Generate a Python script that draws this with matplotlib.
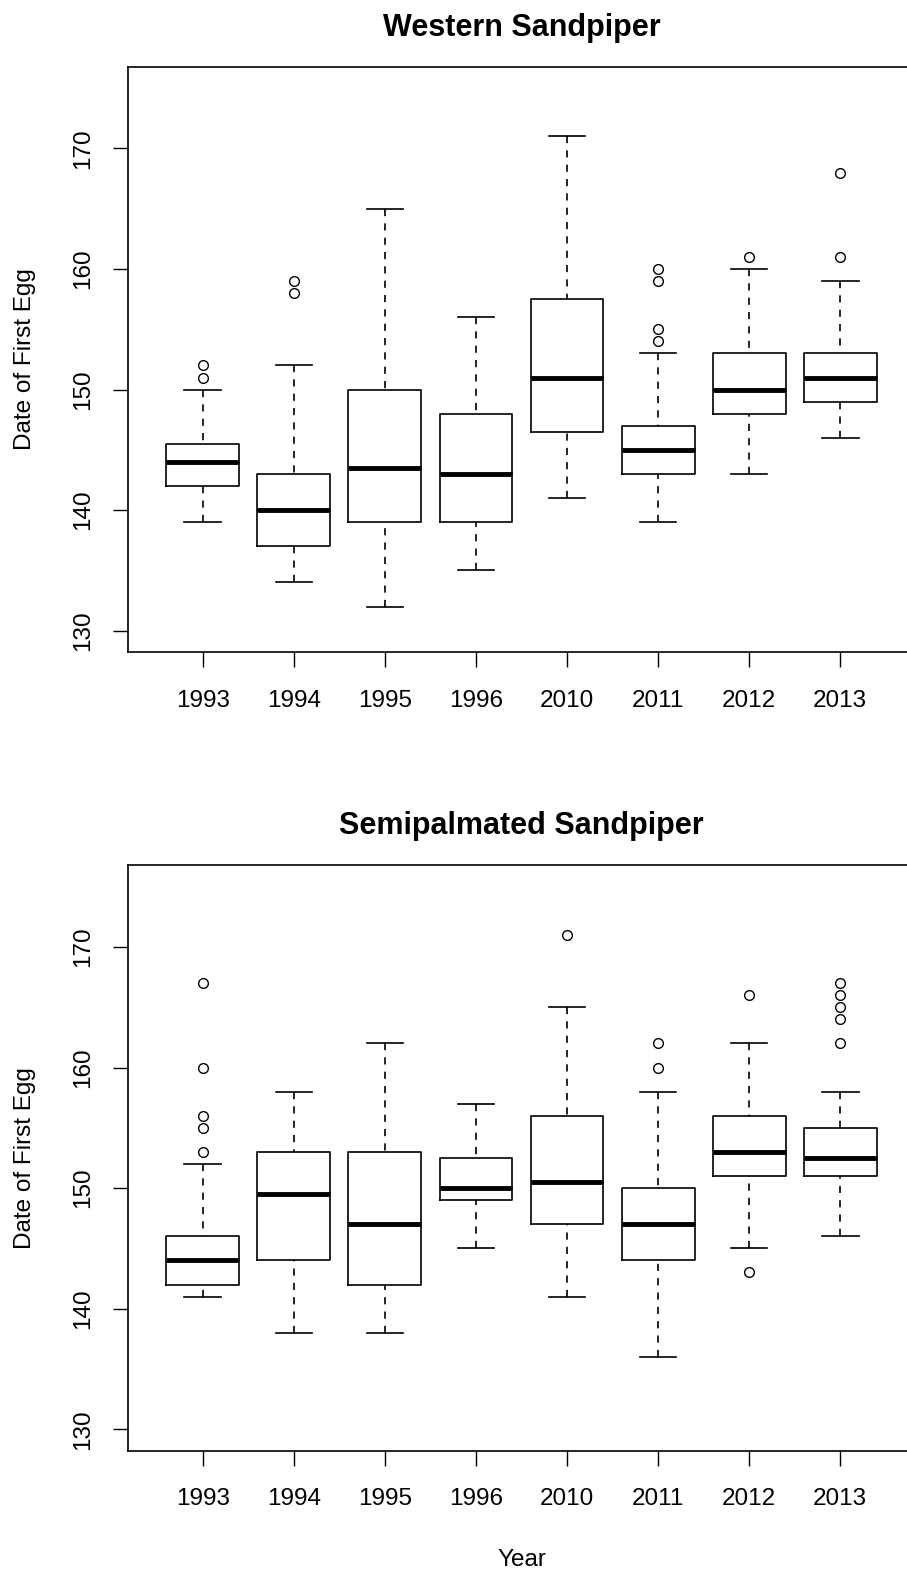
import matplotlib
matplotlib.use('Agg')
import matplotlib.pyplot as plt

plt.rcParams['font.family'] = ['Liberation Sans', 'DejaVu Sans']

years = ['1993', '1994', '1995', '1996', '2010', '2011', '2012', '2013']
y_ticks = [130, 140, 150, 160, 170]

# Western Sandpiper, date of first egg
west_low = [139, 134, 132, 135, 141, 139, 143, 146]
west_q1 = [142, 137, 139, 139, 146.5, 143, 148, 149]
west_med = [144, 140, 143.5, 143, 151, 145, 150, 151]
west_q3 = [145.5, 143, 150, 148, 157.5, 147, 153, 153]
west_high = [150, 152, 165, 156, 171, 153, 160, 159]
west_out = [[151, 152], [158, 159], [], [], [], [154, 155, 159, 160], [161], [161, 168]]

# Semipalmated Sandpiper
semi_low = [141, 138, 138, 145, 141, 136, 145, 146]
semi_q1 = [142, 144, 142, 149, 147, 144, 151, 151]
semi_med = [144, 149.5, 147, 150, 150.5, 147, 153, 152.5]
semi_q3 = [146, 153, 153, 152.5, 156, 150, 156, 155]
semi_high = [152, 158, 162, 157, 165, 158, 162, 158]
semi_out = [[153, 155, 156, 160, 167], [], [], [], [171], [160, 162], [143, 166],
            [162, 164, 165, 166, 167]]

FS = 17.5


def draw_panel(ax, title, lows, q1s, meds, q3s, highs, outs):
    stats = []
    for i in range(len(years)):
        stats.append(dict(label=years[i], whislo=lows[i], q1=q1s[i], med=meds[i],
                          q3=q3s[i], whishi=highs[i], fliers=outs[i]))
    parts = ax.bxp(stats, positions=range(1, len(years) + 1), widths=0.8, capwidths=0.4,
                   boxprops=dict(color='black', linewidth=1.2),
                   medianprops=dict(color='black', linewidth=3.5, solid_capstyle='butt'),
                   whiskerprops=dict(color='black', linewidth=1.2, linestyle=(0, (4.3, 4.3))),
                   capprops=dict(color='black', linewidth=1.2),
                   flierprops=dict(marker='o', markersize=7, markerfacecolor='none',
                                   markeredgecolor='black', markeredgewidth=1.0))
    # R draws whiskers from the staple towards the box
    for line in parts['whiskers']:
        line.set_ydata(line.get_ydata()[::-1])

    ax.set_xlim(0.18, 8.82)
    ax.set_ylim(128.2, 176.8)
    ax.set_yticks(y_ticks, [str(t) for t in y_ticks], rotation=90, va='center')
    ax.tick_params(axis='both', direction='out', length=10.5, width=1.0, labelsize=FS)
    ax.tick_params(axis='x', pad=16.5)
    ax.tick_params(axis='y', pad=14)
    for sp in ax.spines.values():
        sp.set_linewidth(1.2)
    ax.set_title(title, fontsize=22, fontweight='bold', pad=22)
    ax.set_ylabel('Date of First Egg', fontsize=FS)
    ax.yaxis.set_label_coords(-0.117, 0.5)


fig = plt.figure(figsize=(9.07, 15.70), dpi=100)
ax1 = fig.add_axes([128 / 907, 1 - 652.4 / 1570, 787 / 907, 585.9 / 1570])
ax2 = fig.add_axes([128 / 907, 1 - 1450.9 / 1570, 787 / 907, 585.9 / 1570])

draw_panel(ax1, 'Western Sandpiper', west_low, west_q1, west_med, west_q3, west_high, west_out)
draw_panel(ax2, 'Semipalmated Sandpiper', semi_low, semi_q1, semi_med, semi_q3, semi_high, semi_out)

ax2.set_xlabel('Year', fontsize=FS)
ax2.xaxis.set_label_coords(0.5, -0.168)

fig.savefig('out.png', dpi=100)
